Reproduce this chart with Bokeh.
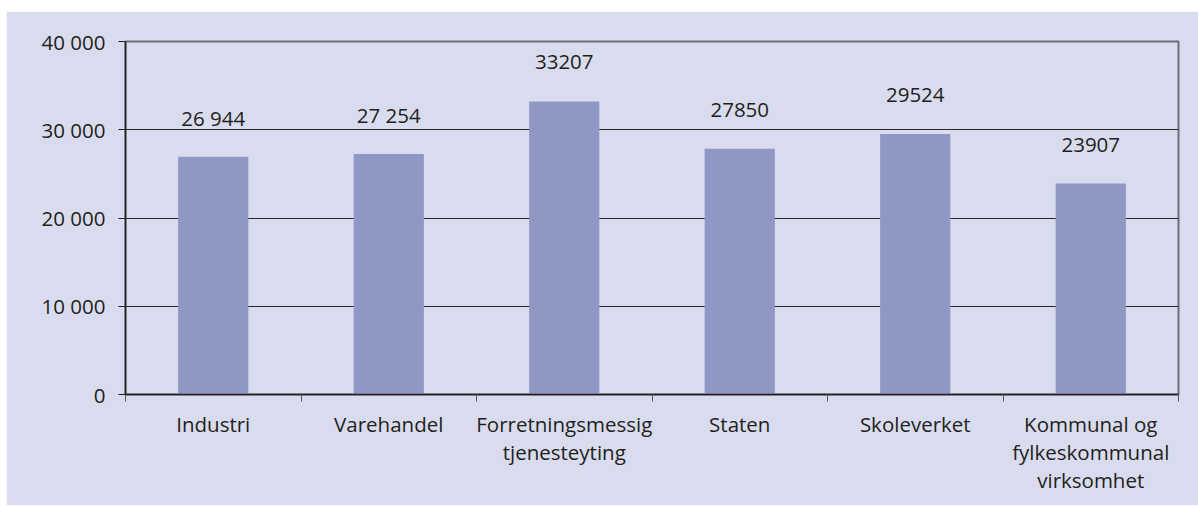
from bokeh.plotting import figure
from bokeh.models import Range1d, FixedTicker, ColumnDataSource, Spacer
from bokeh.layouts import row, column
from bokeh.core.properties import value
from bokeh.embed import file_html
from bokeh.resources import INLINE

categories = ["Industri", "Varehandel", "Forretningsmessig\ntjenesteyting", "Staten",
              "Skoleverket", "Kommunal og\nfylkeskommunal\nvirksomhet"]
values = [26944, 27254, 33207, 27850, 29524, 23907]
value_labels = ["26 944", "27 254", "33207", "27850", "29524", "23907"]
y_ticks = [0, 10000, 20000, 30000, 40000]
y_tick_labels = ["0", "10 000", "20 000", "30 000", "40 000"]

BG = "#d9dcee"
BAR = "#8f98c4"
TXT = "#231f20"
FONT = "Open Sans"
FS = "20.5px"

xs = [i + 0.5 for i in range(len(categories))]
src = ColumnDataSource(dict(x=xs, top=values, lab=value_labels))

p = figure(width=1192, height=494, output_backend="svg", toolbar_location=None,
           x_range=Range1d(0, len(categories)), y_range=Range1d(0, 40000),
           min_border_left=119, min_border_right=20, min_border_top=30, min_border_bottom=111)
p.background_fill_color = BG
p.border_fill_color = BG
p.outline_line_color = "#6e6e78"
p.outline_line_width = 2

p.vbar(x="x", top="top", width=0.4, bottom=0, source=src, color=BAR, line_color=None)
p.text(x="x", y="top", text="lab", source=src, text_align="center", text_baseline="middle",
       y_offset=-39, text_font=value(FONT), text_font_size=FS, text_color=TXT)

# x axis
p.xaxis.ticker = FixedTicker(ticks=xs, minor_ticks=list(range(len(categories) + 1)))
p.xaxis.major_label_overrides = {x: c for x, c in zip(xs, categories)}
p.xaxis.major_tick_out = 0
p.xaxis.major_tick_in = 0
p.xaxis.minor_tick_out = 7
p.xaxis.minor_tick_in = 0
p.xaxis.minor_tick_line_color = "#555555"
p.xaxis.axis_line_color = "#231f20"
p.xaxis.axis_line_width = 1.5
p.xaxis.major_label_standoff = 8
p.xaxis.major_label_text_font = FONT
p.xaxis.major_label_text_font_size = FS
p.xaxis.major_label_text_color = TXT
p.xaxis.major_label_text_line_height = 1.0

# y axis
p.yaxis.ticker = FixedTicker(ticks=y_ticks, minor_ticks=[])
p.yaxis.major_label_overrides = {t: l for t, l in zip(y_ticks, y_tick_labels)}
p.yaxis.major_tick_out = 7
p.yaxis.major_tick_in = 0
p.yaxis.major_tick_line_color = "#231f20"
p.yaxis.axis_line_color = "#231f20"
p.yaxis.axis_line_width = 1.5
p.yaxis.major_label_standoff = 13
p.yaxis.major_label_text_font = FONT
p.yaxis.major_label_text_font_size = FS
p.yaxis.major_label_text_color = TXT

p.xgrid.grid_line_color = None
p.ygrid.ticker = FixedTicker(ticks=y_ticks)
p.ygrid.grid_line_color = "#2a2a2a"
p.ygrid.grid_line_width = 1.2

layout = row(Spacer(width=6, height=494), column(Spacer(width=1192, height=11), p))
open("out.html", "w").write(file_html(layout, INLINE))
